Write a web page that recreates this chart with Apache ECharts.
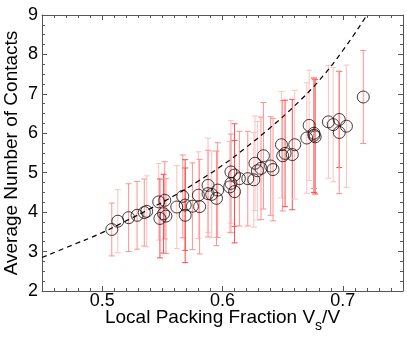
<!DOCTYPE html>
<html>
<head>
<meta charset="utf-8">
<script src="https://cdn.jsdelivr.net/npm/echarts@6/dist/echarts.min.js"></script>
<style>
  html, body { margin: 0; padding: 0; background: #fff; }
  #main { width: 407px; height: 340px; }
</style>
</head>
<body>
<div id="main"></div>
<script>
// local packing fraction of each sample
var packX = [0.508, 0.513, 0.522, 0.529, 0.535, 0.537, 0.547, 0.548, 0.552, 0.551,
             0.553, 0.562, 0.567, 0.569, 0.569, 0.575, 0.580, 0.581, 0.588, 0.588,
             0.591, 0.596, 0.595, 0.606, 0.607, 0.610, 0.607, 0.610, 0.614, 0.621,
             0.626, 0.627, 0.629, 0.632, 0.634, 0.640, 0.642, 0.649, 0.650, 0.652,
             0.658, 0.660, 0.670, 0.672, 0.676, 0.677, 0.676, 0.688, 0.692, 0.697,
             0.697, 0.703, 0.717];
// average number of contacts
var contacts = [3.56, 3.77, 3.86, 3.92, 3.99, 4.02, 4.26, 3.84, 4.30, 3.96,
                3.90, 4.13, 4.40, 4.18, 3.92, 4.15, 4.43, 4.14, 4.68, 4.47,
                4.45, 4.56, 4.35, 4.64, 5.02, 4.94, 4.73, 4.52, 4.85, 4.85,
                4.82, 5.24, 5.05, 5.11, 5.43, 5.17, 5.08, 5.71, 5.43, 5.49,
                5.46, 5.71, 5.88, 6.20, 5.95, 5.91, 6.00, 6.29, 6.22, 6.35,
                6.02, 6.18, 6.92];
// half length of the error bars
var errs = [0.67, 0.80, 0.86, 0.86, 0.85, 0.90, 0.97, 1.00, 0.98, 1.00,
            0.95, 1.05, 1.05, 1.15, 1.20, 1.10, 1.10, 1.20, 1.20, 1.10,
            1.10, 1.20, 1.20, 1.15, 1.30, 1.30, 1.25, 1.30, 1.20, 1.20,
            1.20, 1.20, 1.25, 1.30, 1.35, 1.25, 1.30, 1.35, 1.40, 1.35,
            1.40, 1.38, 1.40, 1.40, 1.45, 1.45, 1.40, 1.43, 1.45, 1.22,
            1.55, 1.55, 1.18];
// shade of each error bar (0 light .. 2 strong)
var errShade = [1, 0, 1, 1, 1, 0, 0, 2, 1, 2,
                1, 0, 1, 2, 2, 1, 0, 1, 0, 1,
                0, 1, 1, 0, 0, 2, 1, 2, 1, 1,
                0, 0, 0, 1, 1, 1, 1, 0, 1, 2,
                2, 0, 0, 0, 2, 2, 1, 0, 0, 2,
                1, 0, 1];
var errColors = ['#ffc0c0', '#ff9090', '#ff4c4c'];

// dashed guide curve
var curveX = [0.45, 0.47, 0.50, 0.52, 0.54, 0.56, 0.58, 0.60, 0.62, 0.64, 0.66, 0.68, 0.70, 0.72];
var curveY = [2.85, 3.10, 3.48, 3.78, 4.09, 4.42, 4.79, 5.19, 5.65, 6.15, 6.70, 7.33, 8.10, 9.00];

var xMajor = [0.5, 0.6, 0.7];

var pts = [], bars = [], curve = [];
for (var i = 0; i < packX.length; i++) {
    pts.push([packX[i], contacts[i]]);
    bars.push([packX[i], contacts[i] - errs[i], contacts[i] + errs[i], errShade[i]]);
}
for (var j = 0; j < curveX.length; j++) {
    curve.push([curveX[j], curveY[j]]);
}

var font = "'Liberation Sans', Arial, Helvetica, sans-serif";
var lineCol = '#555';

function renderErr(params, api) {
    var x = api.value(0);
    var top = api.coord([x, api.value(2)]);
    var bot = api.coord([x, api.value(1)]);
    var st = { stroke: errColors[api.value(3)], lineWidth: 1 };
    var w = 3;
    return {
        type: 'group',
        children: [
            { type: 'line', shape: { x1: top[0], y1: top[1], x2: bot[0], y2: bot[1] }, style: st },
            { type: 'line', shape: { x1: top[0] - w, y1: top[1], x2: top[0] + w, y2: top[1] }, style: st },
            { type: 'line', shape: { x1: bot[0] - w, y1: bot[1], x2: bot[0] + w, y2: bot[1] }, style: st }
        ]
    };
}

function majorX(pos, labels) {
    return {
        type: 'value', position: pos, min: 0.45, max: 0.75,
        axisLine: { show: true, onZero: false, lineStyle: { color: lineCol, width: 1 } },
        axisTick: { show: true, inside: true, length: 5, customValues: xMajor, lineStyle: { color: lineCol } },
        axisLabel: labels ? {
            show: true, customValues: xMajor, margin: 1, color: '#000',
            fontSize: 18, fontFamily: font
        } : { show: false },
        splitLine: { show: false }
    };
}
function minorX(pos) {
    return {
        type: 'value', position: pos, min: 0.45, max: 0.75, interval: 0.01,
        axisLine: { show: false },
        axisTick: { show: true, inside: true, length: 3, lineStyle: { color: lineCol } },
        axisLabel: { show: false },
        splitLine: { show: false }
    };
}
function yAx(pos, labels) {
    return {
        type: 'value', position: pos, min: 2, max: 9, interval: 1,
        axisLine: { show: true, onZero: false, lineStyle: { color: lineCol, width: 1 } },
        axisTick: { show: true, inside: true, length: 5, lineStyle: { color: lineCol } },
        minorTick: { show: true, splitNumber: 4, length: 3, lineStyle: { color: lineCol } },
        axisLabel: labels ? { show: true, margin: 4, color: '#000', fontSize: 18, fontFamily: font } : { show: false },
        splitLine: { show: false },
        minorSplitLine: { show: false }
    };
}

var xBottom = majorX('bottom', true);
xBottom.name = 'Local Packing Fraction V{sub|s}/V';
xBottom.nameLocation = 'middle';
xBottom.nameGap = 12;
xBottom.nameMoveOverlap = false;
xBottom.nameTextStyle = {
    color: '#000', fontSize: 19, fontFamily: font,
    rich: { sub: { fontSize: 14, fontFamily: font, color: '#000', verticalAlign: 'bottom', padding: [16, 0, 0, 0] } }
};
var yLeft = yAx('left', true);
yLeft.name = 'Average Number of Contacts';
yLeft.nameLocation = 'middle';
yLeft.nameGap = 21;
yLeft.nameMoveOverlap = false;
yLeft.nameTextStyle = { color: '#000', fontSize: 19, fontFamily: font };

var myChart = echarts.init(document.getElementById('main'), null, { renderer: 'canvas' });
myChart.setOption({
    animation: false,
    backgroundColor: '#fff',
    grid: { left: 42, right: 4, top: 15, bottom: 49, containLabel: false, outerBoundsMode: 'none' },
    xAxis: [xBottom, minorX('bottom'), majorX('top', false), minorX('top')],
    yAxis: [yLeft, yAx('right', false)],
    series: [
        {
            type: 'custom', xAxisIndex: 0, yAxisIndex: 0,
            renderItem: renderErr, data: bars, z: 1,
            encode: { x: 0, y: [1, 2] }
        },
        {
            type: 'scatter', xAxisIndex: 0, yAxisIndex: 0,
            data: pts, symbol: 'circle', symbolSize: 12, z: 2,
            itemStyle: { color: 'rgba(0,0,0,0)', borderColor: '#1a0a0a', borderWidth: 1 }
        },
        {
            type: 'line', xAxisIndex: 0, yAxisIndex: 0,
            data: curve, smooth: true, showSymbol: false, z: 3,
            lineStyle: { color: '#000', width: 1.2, type: [5, 4] }
        }
    ]
});
</script>
</body>
</html>
